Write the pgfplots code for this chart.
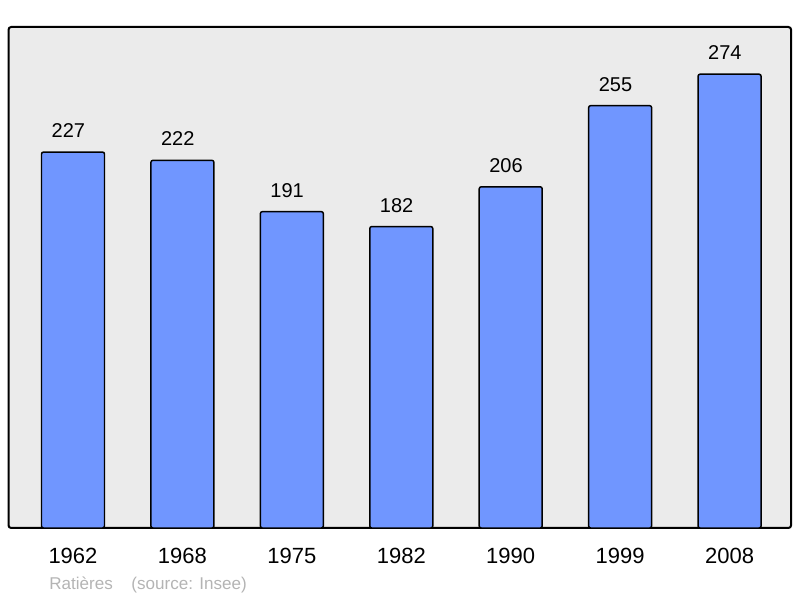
\documentclass[border=0pt]{standalone}
\usepackage{pgfplots}
\pgfplotsset{compat=1.18}
\usepackage{fontspec}
\setmainfont{Liberation Sans}
\definecolor{barblue}{RGB}{112,150,255}
\definecolor{panel}{RGB}{235,235,235}
\definecolor{srcgray}{RGB}{180,180,180}
\begin{document}
\begin{tikzpicture}
% page is 800 x 598 px, 1px = 0.75pt
\path[use as bounding box] (0,0) rectangle (600pt,448.5pt);
\begin{axis}[
    at={(6.4pt,52.5pt)}, anchor=south west,
    scale only axis,
    width=586.9pt, height=375.75pt,
    xmin=-0.589, xmax=6.562,
    ymin=0, ymax=302.5,
    /pgf/number format/assume math mode=true,
    axis background/.style={fill=panel},
    axis line style={line width=1.5pt, rounded corners=2pt},
    ybar, bar width=47.25pt,
    bar shift=0pt,
    xtick=data,
    xticklabels={1962,1968,1975,1982,1990,1999,2008},
    ytick=\empty,
    major tick length=0pt,
    xticklabel style={font=\fontsize{16.5}{18}\selectfont, anchor=center, yshift=-21pt},
    nodes near coords,
    every node near coord/.append style={font=\fontsize{15}{17}\selectfont, anchor=center, xshift=-3.5pt, yshift=16pt, black},
    clip=false,
]
\addplot[fill=barblue, draw=black, line width=1.1pt, rounded corners=1.5pt] coordinates {
    (0,227) (1,222) (2,191) (3,182) (4,206) (5,255) (6,274)
};
\end{axis}
\node[anchor=west, text=srcgray, font=\fontsize{12.8}{14}\selectfont, inner sep=0pt] at (36.75pt,9.5pt) {Ratières\hspace{14pt}(source: Insee)};
\end{tikzpicture}
\end{document}
